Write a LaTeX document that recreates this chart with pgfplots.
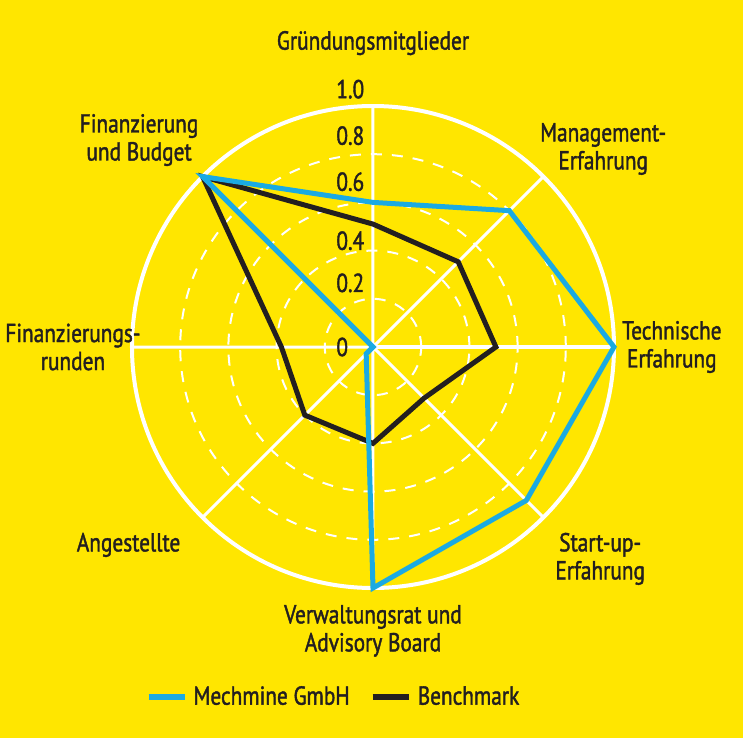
\documentclass[border=0pt]{standalone}
\usepackage{fontspec}
\setmainfont{PT Sans}[FakeStretch=0.82, FakeBold=1.5]
\usepackage{pgfplots}
\pgfplotsset{compat=1.18}
\usepgfplotslibrary{polar}
\definecolor{bgyellow}{RGB}{255,230,0}
\definecolor{mblue}{RGB}{27,170,226}
\definecolor{txt}{RGB}{35,31,32}
\tikzset{lbl/.style={font=\fontsize{13}{14}\selectfont, text=txt, inner sep=0pt},
  cat/.style={lbl, align=center}}
\begin{document}
\begin{tikzpicture}
\fill[bgyellow] (-186.5pt,-198pt) rectangle (185pt,173.5pt);
\fill[white] (-186.5pt,-198pt) rectangle (185pt,-195.5pt);
\begin{polaraxis}[
  at={(0pt,0pt)}, anchor=center,
  scale only axis, width=241pt, height=241pt,
  clip=false,
  xmin=0, xmax=360, ymin=0, ymax=1,
  xtick={0,45,...,315}, ytick={0.2,0.4,0.6,0.8},
  xticklabels={}, yticklabels={},
  major tick length=0pt, tick style={draw=none},
  xmajorgrids, ymajorgrids,
  x grid style={white, line width=1.5pt},
  y grid style={white, line width=1pt, dash pattern=on 5.5pt off 5pt},
  axis line style={white, line width=2pt},
  legend columns=2,
  legend style={draw=none, fill=none, at={(0.42,-0.226)}, anchor=center,
    font=\fontsize{13}{14}\selectfont, text=txt,
    /tikz/every even column/.append style={column sep=8pt},
    /tikz/every odd column/.append style={column sep=1pt}},
  legend image code/.code={\draw[#1, line width=3pt] (0pt,0pt) -- (18pt,0pt);},
]
\addlegendimage{mblue}
\addlegendentry{Mechmine GmbH}
\addlegendimage{txt}
\addlegendentry{Benchmark}
% Benchmark
\addplot[forget plot, txt, line width=2.5pt, line join=miter, line cap=round]
  coordinates {(180,0.38) (225,0.40) (270,0.40) (315,0.30) (0,0.51) (45,0.50) (90,0.51) (135,1.0) (180,0.38)};
% Mechmine GmbH
\addplot[forget plot, mblue, line width=2.5pt, line join=miter, line cap=round]
  coordinates {(90,0.60) (135,1.0) (180,0.0) (225,0.04) (270,1.0) (315,0.90) (0,1.0) (45,0.80) (90,0.60)};
% radial value labels
\node[lbl, anchor=west, xshift=-18.5pt] at (axis cs:90,1.07) {1.0};
\node[lbl, anchor=west, xshift=-18.5pt] at (axis cs:90,0.877) {0.8};
\node[lbl, anchor=west, xshift=-18.5pt] at (axis cs:90,0.686) {0.6};
\node[lbl, anchor=west, xshift=-18.5pt] at (axis cs:90,0.441) {0.4};
\node[lbl, anchor=west, xshift=-18.5pt] at (axis cs:90,0.266) {0.2};
\node[lbl, anchor=west, xshift=-18.5pt] at (axis cs:90,0) {0};
% category labels
\node[cat] at (axis cs:90,1.261) {Gründungsmitglieder};
\node[cat] at (axis cs:40.7,1.26) {Management-\\Erfahrung};
\node[cat] at (axis cs:0,1.24) {Technische\\Erfahrung};
\node[cat] at (axis cs:-43,1.289) {Start-up-\\Erfahrung};
\node[cat] at (axis cs:-90,1.178) {Verwaltungsrat und\\Advisory Board};
\node[cat] at (axis cs:219,1.305) {Angestellte};
\node[cat] at (axis cs:180,1.245) {Finanzierungs-\\runden};
\node[cat] at (axis cs:138.5,1.296) {Finanzierung\\und Budget};
\end{polaraxis}
\pgfresetboundingbox
\useasboundingbox (-186.5pt,-198pt) rectangle (185pt,173.5pt);
\end{tikzpicture}
\end{document}
